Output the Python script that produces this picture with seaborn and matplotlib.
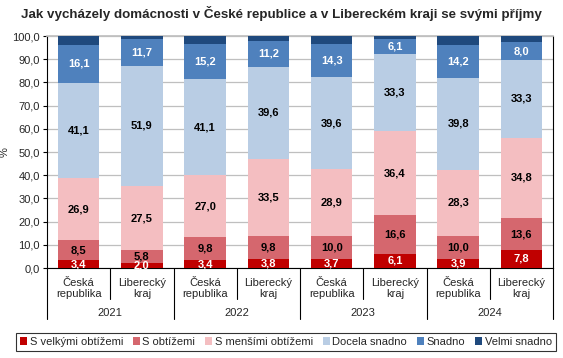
import numpy as np
import pandas as pd
import matplotlib
matplotlib.use("Agg")
import matplotlib.pyplot as plt
from matplotlib.patches import Patch
import matplotlib.transforms as mtransforms
import seaborn as sns

years = ["2021", "2022", "2023", "2024"]
regions = ["Česká\nrepublika", "Liberecký\nkraj"]
series = ["S velkými obtížemi", "S obtížemi", "S menšími obtížemi",
          "Docela snadno", "Snadno", "Velmi snadno"]
colors = ["#C00000", "#D5676E", "#F4BEC1", "#B9CDE4", "#4F81BD", "#1F497D"]
label_colors = ["white", "black", "black", "black", "white", None]

s_velkymi = [3.4, 2.0, 3.4, 3.8, 3.7, 6.1, 3.9, 7.8]
s_obtizemi = [8.5, 5.8, 9.8, 9.8, 10.0, 16.6, 10.0, 13.6]
s_mensimi = [26.9, 27.5, 27.0, 33.5, 28.9, 36.4, 28.3, 34.8]
docela = [41.1, 51.9, 41.1, 39.6, 39.6, 33.3, 39.8, 33.3]
snadno = [16.1, 11.7, 15.2, 11.2, 14.3, 6.1, 14.2, 8.0]
velmi = [4.0, 1.1, 3.5, 2.1, 3.5, 1.5, 3.8, 2.5]

values = [s_velkymi, s_obtizemi, s_mensimi, docela, snadno, velmi]
bars = [f"{y}-{r}" for y in years for r in regions]

sns.set_theme(style="white")
plt.rcParams["font.family"] = ["Liberation Sans", "DejaVu Sans"]

fig = plt.figure(figsize=(5.63, 3.58), dpi=100)
ax = fig.add_axes([47 / 563, 1 - 268 / 358, 506 / 563, 232 / 358])

# stacked bars: draw cumulative totals from the top layer down
cum = np.cumsum(np.array(values), axis=0)
for i in range(len(series) - 1, -1, -1):
    df = pd.DataFrame({"bar": bars, "value": cum[i]})
    sns.barplot(data=df, x="bar", y="value", order=bars, color=colors[i],
                width=0.66, saturation=1, ax=ax, zorder=3, linewidth=0)

# data labels
bottoms = np.vstack([np.zeros(len(bars)), cum[:-1]])
for i in range(len(series)):
    if label_colors[i] is None:
        continue
    for j in range(len(bars)):
        ax.text(j, bottoms[i][j] + values[i][j] / 2, f"{values[i][j]:.1f}".replace(".", ","),
                ha="center", va="center", fontsize=8, fontweight="bold",
                color=label_colors[i], zorder=4)

ax.set_ylim(0, 100)
ax.set_xlim(-0.5, len(bars) - 0.5)
ax.set_yticks(np.arange(0, 101, 10))
ax.set_yticklabels([f"{v:.1f}".replace(".", ",") for v in np.arange(0, 101, 10)], fontsize=8)
ax.tick_params(axis="y", length=3, width=0.8, color="black", pad=2, direction="out", left=True)
ax.yaxis.grid(True, color="#BFBFBF", linewidth=0.9, zorder=0)
ax.set_xticks([])
ax.set_xlabel("")
ax.set_ylabel("%", fontsize=8)
ax.yaxis.set_label_coords(-0.074, 0.5)
for side in ["left", "right", "bottom"]:
    ax.spines[side].set_color("black")
    ax.spines[side].set_linewidth(0.8)
ax.spines["top"].set_color("#BFBFBF")

# category axis labels and separators
trans = mtransforms.blended_transform_factory(ax.transData, ax.transAxes)
for j, b in enumerate(bars):
    ax.text(j, -0.088, regions[j % 2], transform=trans, ha="center", va="center",
            fontsize=8, linespacing=1.05)
for k, y in enumerate(years):
    ax.text(2 * k + 0.5, -0.195, y, transform=trans, ha="center", va="center", fontsize=8)
for j in range(len(bars) + 1):
    low = -0.22 if j % 2 == 0 else -0.134
    ax.plot([j - 0.5, j - 0.5], [0, low], transform=trans, color="black",
            linewidth=0.8, clip_on=False)

fig.suptitle("Jak vycházely domácnosti v České republice a v Libereckém kraji se svými příjmy",
             x=0.5, y=0.982, fontsize=9.6, fontweight="bold")

handles = [Patch(facecolor=c, edgecolor="none") for c in colors]
leg = fig.legend(handles, series, loc="center", bbox_to_anchor=(0.508, 0.045), ncol=6,
                 fontsize=8, frameon=True, fancybox=False, edgecolor="black",
                 handlelength=0.6, handleheight=0.6, handletextpad=0.25,
                 columnspacing=0.9, borderpad=0.35, borderaxespad=0)
leg.get_frame().set_linewidth(0.8)

fig.savefig("out.png", dpi=100)
